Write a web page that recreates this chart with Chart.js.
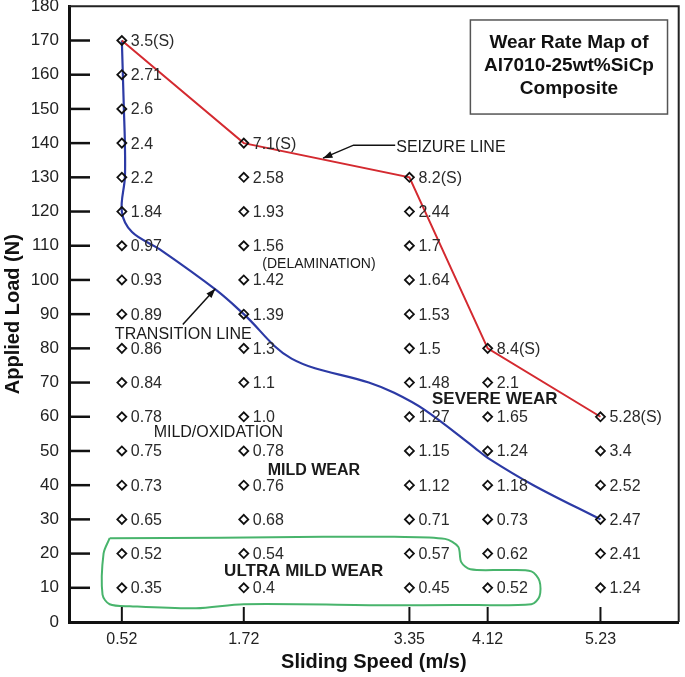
<!DOCTYPE html>
<html>
<head>
<meta charset="utf-8">
<script src="https://cdn.jsdelivr.net/npm/chart.js@4/dist/chart.umd.min.js"></script>
<style>
  html, body { margin: 0; padding: 0; background: #fff; }
  #wrap { width: 685px; height: 677px; }
</style>
</head>
<body>
<div id="wrap"><canvas id="wearChart" width="685" height="677"></canvas></div>
<script>
// sliding speeds (m/s) used as x ticks
var speeds = [0.52, 1.72, 3.35, 4.12, 5.23];
// applied loads (N), bottom to top
var loads = [10, 20, 30, 40, 50, 60, 70, 80, 90, 100, 110, 120, 130, 140, 150, 160, 170];
var loadTicks = [0, 10, 20, 30, 40, 50, 60, 70, 80, 90, 100, 110, 120, 130, 140, 150, 160, 170, 180];

// wear rate readings per speed column (same order as loads)
var wear052 = ['0.35', '0.52', '0.65', '0.73', '0.75', '0.78', '0.84', '0.86', '0.89', '0.93', '0.97', '1.84', '2.2', '2.4', '2.6', '2.71', '3.5(S)'];
var wear172 = ['0.4', '0.54', '0.68', '0.76', '0.78', '1.0', '1.1', '1.3', '1.39', '1.42', '1.56', '1.93', '2.58', '7.1(S)'];
var wear335 = ['0.45', '0.57', '0.71', '1.12', '1.15', '1.27', '1.48', '1.5', '1.53', '1.64', '1.7', '2.44', '8.2(S)'];
var wear412 = ['0.52', '0.62', '0.73', '1.18', '1.24', '1.65', '2.1', '8.4(S)'];
var wear523 = ['1.24', '2.41', '2.47', '2.52', '3.4', '5.28(S)'];

// seizure line
var seizureSpeed = [0.52, 1.72, 3.35, 4.12, 5.23];
var seizureLoad = [170, 140, 130, 80, 60];

// transition line (mild -> severe)
var transSpeed = [0.52, 0.54, 0.55, 0.55, 0.52, 0.62, 0.89, 1.45, 1.72, 2.19, 2.95, 3.2, 3.5, 3.99, 4.12, 4.57, 5.23];
var transLoad = [170, 150, 140, 130, 120, 114, 109, 97, 90, 77, 70, 67, 62, 51, 48, 40, 30];

// ultra mild wear boundary (closed loop)
var umwSpeed = [0.40, 1.5, 2.5, 3.2, 3.7, 3.83, 3.86, 3.95, 4.3, 4.55, 4.63, 4.63, 4.55, 3.8, 3.17, 1.72, 1.25, 0.6, 0.40, 0.33, 0.34, 0.40];
var umwLoad = [24.5, 24.6, 24.9, 24.9, 24.3, 22, 17.5, 15.4, 15.2, 14.8, 12, 7.5, 5.2, 5.0, 4.9, 5.2, 4.0, 4.6, 5.2, 8, 20, 24.5];

var columns = [wear052, wear172, wear335, wear412, wear523];

var points = [];
columns.forEach(function (col, c) {
  col.forEach(function (txt, i) {
    points.push({ x: speeds[c], y: loads[i], txt: txt });
  });
});

function pairs(xs, ys) {
  return xs.map(function (v, i) { return { x: v, y: ys[i] }; });
}

var FONT = "'Liberation Sans', Arial, Helvetica, sans-serif";

// free text on the map, placed in data units
var notes = [
  { text: 'SEIZURE LINE', x: 3.22, y: 138.8, size: 16, bold: false, align: 'left' },
  { text: 'TRANSITION LINE', x: 1.125, y: 84, size: 16, bold: false, align: 'center' },
  { text: '(DELAMINATION)', x: 2.46, y: 104.7, size: 14, bold: false, align: 'center' },
  { text: 'MILD/OXIDATION', x: 1.47, y: 55.5, size: 16, bold: false, align: 'center' },
  { text: 'MILD WEAR', x: 2.41, y: 44.3, size: 16, bold: true, align: 'center' },
  { text: 'SEVERE WEAR', x: 4.19, y: 65, size: 17, bold: true, align: 'center' },
  { text: 'ULTRA MILD WEAR', x: 2.31, y: 14.7, size: 17, bold: true, align: 'center' }
];

var mapPlugin = {
  id: 'mapPlugin',
  afterDatasetsDraw: function (chart) {
    var ctx = chart.ctx;
    var xs = chart.scales.x, ys = chart.scales.y;
    var area = chart.chartArea;
    ctx.save();

    // value labels next to every marker
    var meta = chart.getDatasetMeta(0);
    ctx.font = '16px ' + FONT;
    ctx.fillStyle = '#2a2a2a';
    ctx.textBaseline = 'middle';
    ctx.textAlign = 'left';
    meta.data.forEach(function (el, i) {
      ctx.fillText(points[i].txt, el.x + 9, el.y + 1);
    });

    // inner tick marks
    ctx.strokeStyle = '#111';
    ctx.lineWidth = 2.5;
    loadTicks.forEach(function (v) {
      if (v === 0 || v === 180) return;
      var py = ys.getPixelForValue(v);
      ctx.beginPath();
      ctx.moveTo(area.left, py);
      ctx.lineTo(area.left + 21, py);
      ctx.stroke();
    });
    ctx.lineWidth = 2;
    speeds.forEach(function (v) {
      var px = xs.getPixelForValue(v);
      ctx.beginPath();
      ctx.moveTo(px, area.bottom);
      ctx.lineTo(px, area.bottom - 15);
      ctx.stroke();
    });

    // top and right frame
    ctx.strokeStyle = '#222';
    ctx.lineWidth = 2;
    ctx.beginPath();
    ctx.moveTo(area.left, area.top);
    ctx.lineTo(area.right, area.top);
    ctx.lineTo(area.right, area.bottom);
    ctx.stroke();

    // notes
    ctx.fillStyle = '#1a1a1a';
    notes.forEach(function (n) {
      ctx.font = (n.bold ? 'bold ' : '') + n.size + 'px ' + FONT;
      ctx.textAlign = n.align;
      ctx.fillText(n.text, xs.getPixelForValue(n.x), ys.getPixelForValue(n.y));
    });

    // seizure leader with arrow
    ctx.strokeStyle = '#111';
    ctx.lineWidth = 1.5;
    var a1 = [xs.getPixelForValue(3.21), ys.getPixelForValue(139.4)];
    var a2 = [xs.getPixelForValue(2.80), ys.getPixelForValue(139.4)];
    var a3 = [xs.getPixelForValue(2.50), ys.getPixelForValue(135.6)];
    ctx.beginPath();
    ctx.moveTo(a1[0], a1[1]);
    ctx.lineTo(a2[0], a2[1]);
    ctx.lineTo(a3[0], a3[1]);
    ctx.stroke();
    arrowHead(ctx, a2, a3);

    // transition arrow
    var t1 = [xs.getPixelForValue(1.12), ys.getPixelForValue(87)];
    var t2 = [xs.getPixelForValue(1.44), ys.getPixelForValue(97.4)];
    ctx.beginPath();
    ctx.moveTo(t1[0], t1[1]);
    ctx.lineTo(t2[0], t2[1]);
    ctx.stroke();
    arrowHead(ctx, t1, t2);

    // title box
    var bx1 = xs.getPixelForValue(3.95), bx2 = xs.getPixelForValue(5.89);
    var by1 = ys.getPixelForValue(176), by2 = ys.getPixelForValue(148.5);
    ctx.fillStyle = '#fff';
    ctx.fillRect(bx1, by1, bx2 - bx1, by2 - by1);
    ctx.strokeStyle = '#555';
    ctx.lineWidth = 1.5;
    ctx.strokeRect(bx1, by1, bx2 - bx1, by2 - by1);
    ctx.fillStyle = '#111';
    ctx.font = 'bold 19px ' + FONT;
    ctx.textAlign = 'center';
    var cx = (bx1 + bx2) / 2;
    ctx.fillText('Wear Rate Map of', cx, by1 + 23);
    ctx.fillText('Al7010-25wt%SiCp', cx, by1 + 46);
    ctx.fillText('Composite', cx, by1 + 69);

    ctx.restore();
  }
};

function arrowHead(ctx, from, to) {
  var ang = Math.atan2(to[1] - from[1], to[0] - from[0]);
  var len = 10, w = 0.35;
  ctx.beginPath();
  ctx.moveTo(to[0], to[1]);
  ctx.lineTo(to[0] - len * Math.cos(ang - w), to[1] - len * Math.sin(ang - w));
  ctx.lineTo(to[0] - len * Math.cos(ang + w), to[1] - len * Math.sin(ang + w));
  ctx.closePath();
  ctx.fillStyle = '#111';
  ctx.fill();
}

var ctx = document.getElementById('wearChart').getContext('2d');
var chart = new Chart(ctx, {
  type: 'scatter',
  data: {
    datasets: [
      {
        label: 'Wear rate',
        data: points,
        pointStyle: 'rectRot',
        pointRadius: 4.5,
        borderWidth: 1.8,
        borderColor: '#111',
        backgroundColor: 'rgba(0,0,0,0)',
        showLine: false
      },
      {
        label: 'Seizure line',
        data: pairs(seizureSpeed, seizureLoad),
        showLine: true,
        borderColor: '#d42a30',
        borderWidth: 2,
        pointRadius: 0,
        tension: 0
      },
      {
        label: 'Transition line',
        data: pairs(transSpeed, transLoad),
        showLine: true,
        borderColor: '#2c3aa5',
        borderWidth: 2.2,
        pointRadius: 0,
        tension: 0.35
      },
      {
        label: 'Ultra mild wear',
        data: pairs(umwSpeed, umwLoad),
        showLine: true,
        borderColor: '#48b46c',
        borderWidth: 2,
        pointRadius: 0,
        tension: 0.3
      }
    ]
  },
  options: {
    responsive: false,
    animation: false,
    layout: { padding: { top: 5, right: 3, left: 0, bottom: 0 } },
    plugins: {
      legend: { display: false },
      tooltip: { enabled: false }
    },
    scales: {
      x: {
        type: 'linear',
        min: 0,
        max: 6,
        afterBuildTicks: function (s) {
          s.ticks = speeds.map(function (v) { return { value: v }; });
        },
        afterFit: function (s) {
          s.height = 55;
          s.paddingLeft = 0; s.paddingRight = 0;
        },
        ticks: {
          autoSkip: false,
          maxRotation: 0,
          padding: 8,
          color: '#222',
          font: { family: FONT, size: 16 },
          callback: function (v) { return Number(v).toFixed(2); }
        },
        grid: { display: true, drawOnChartArea: false, drawTicks: false },
        border: { display: true, width: 3, color: '#111' },
        title: {
          display: true,
          text: 'Sliding Speed (m/s)',
          color: '#111',
          font: { family: FONT, size: 20, weight: 'bold' },
          padding: { top: 0, bottom: 3 }
        }
      },
      y: {
        type: 'linear',
        min: 0,
        max: 180,
        afterBuildTicks: function (s) {
          s.ticks = loadTicks.map(function (v) { return { value: v }; });
        },
        afterFit: function (s) {
          s.width = 69;
          s.paddingTop = 0; s.paddingBottom = 0;
        },
        ticks: {
          autoSkip: false,
          padding: 10,
          color: '#222',
          font: { family: FONT, size: 17 }
        },
        grid: { display: true, drawOnChartArea: false, drawTicks: false },
        border: { display: true, width: 3, color: '#111' },
        title: {
          display: true,
          text: 'Applied Load (N)',
          color: '#111',
          font: { family: FONT, size: 20, weight: 'bold' },
          padding: { top: 1, bottom: 0 }
        }
      }
    }
  },
  plugins: [mapPlugin]
});
</script>
</body>
</html>
